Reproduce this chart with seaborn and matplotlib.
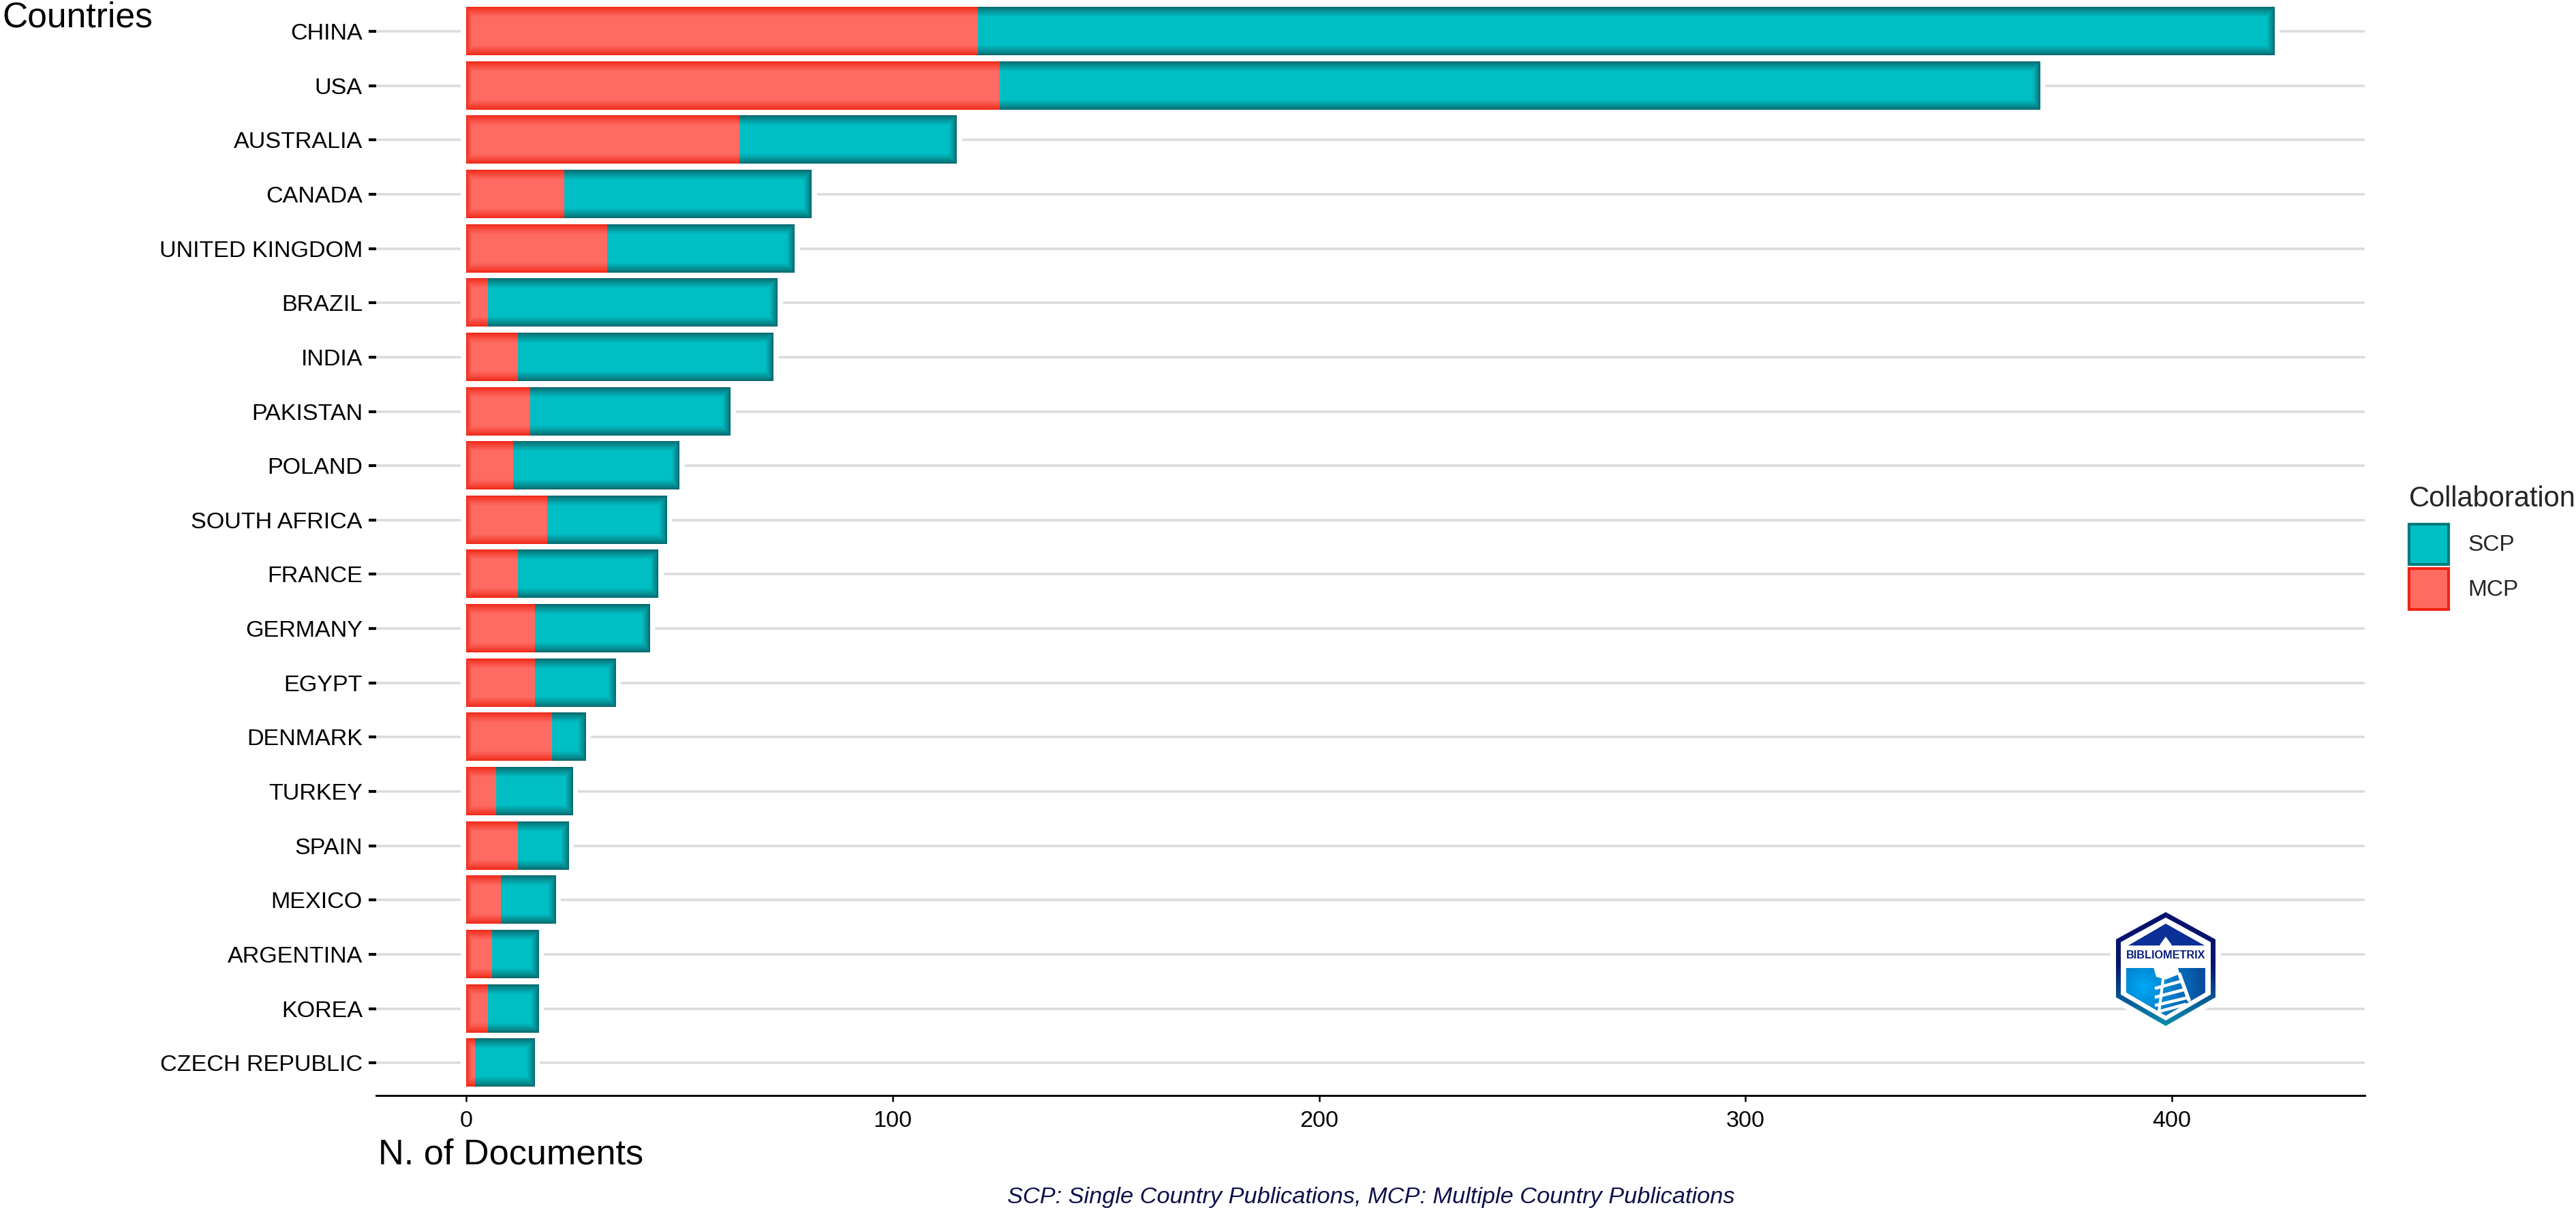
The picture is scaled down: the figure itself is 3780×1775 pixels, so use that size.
import numpy as np
import pandas as pd
import matplotlib.pyplot as plt
import seaborn as sns
from matplotlib.colors import to_rgb
from matplotlib.patches import Patch, Polygon

countries = ["CHINA", "USA", "AUSTRALIA", "CANADA", "UNITED KINGDOM", "BRAZIL", "INDIA",
             "PAKISTAN", "POLAND", "SOUTH AFRICA", "FRANCE", "GERMANY", "EGYPT", "DENMARK",
             "TURKEY", "SPAIN", "MEXICO", "ARGENTINA", "KOREA", "CZECH REPUBLIC"]
mcp = [120, 125, 64, 23, 33, 5, 12, 15, 11, 19, 12, 16, 16, 20, 7, 12, 8, 6, 5, 2]
total = [424, 369, 115, 81, 77, 73, 72, 62, 50, 47, 45, 43, 35, 28, 25, 24, 21, 17, 17, 16]
x_ticks = [0, 100, 200, 300, 400]

W, H = 3780, 1775
TEAL, TEAL_DARK = "#00bfc4", "#0a6468"
RED, RED_DARK = "#ff6b63", "#ee2413"

sns.set_theme(style="white")
plt.rcParams["font.family"] = ["Liberation Sans", "DejaVu Sans"]

df = pd.DataFrame({"country": countries, "mcp": mcp, "total": total})


def fx(px):
    return px / W


def fy(py):
    return 1 - py / H


def shade_bars(ax, container, base, dark, left=False, right=False):
    # darker bands along the bar edges, as in the source image
    base, dark = np.array(to_rgb(base)), np.array(to_rgb(dark))
    fig = ax.figure
    fig.canvas.draw()
    for bar in container:
        box = bar.get_window_extent()
        nx, ny = max(int(round(box.width)), 1), max(int(round(box.height)), 1)
        xs, ys = np.arange(nx) + 0.5, np.arange(ny) + 0.5
        dy = np.minimum(ys, ny - ys)[:, None] / 15
        d = np.repeat(dy, nx, axis=1)
        if right:
            d = np.minimum(d, (nx - xs)[None, :] / 12)
        if left:
            d = np.minimum(d, xs[None, :] / 9)
        t = np.clip(d, 0, 1)[..., None] ** 0.8
        img = dark + (base - dark) * t
        x0, y0 = bar.get_x(), bar.get_y()
        ax.imshow(img, extent=(x0, x0 + bar.get_width(), y0 + bar.get_height(), y0),
                  aspect="auto", interpolation="nearest", zorder=2.5)


def draw_logo(fig):
    # Bibliometrix badge, local coordinates are pixels of a 180x190 box
    lax = fig.add_axes([fx(3090), fy(1515), fx(180), 190 / H], facecolor="none", zorder=5)
    lax.set_xlim(0, 180)
    lax.set_ylim(190, 0)
    lax.axis("off")

    outer = [(88, 13), (161, 53), (161, 138), (88, 180), (15, 138), (15, 53)]
    inner = [(88, 21), (154, 57), (154, 134), (88, 172), (22, 134), (22, 57)]
    roof = [(33, 62), (88, 30), (145, 62)]
    lower = [(30, 95), (146, 95), (146, 131), (88, 165), (30, 131)]
    tower = [(88, 49), (96, 60), (100, 72), (76, 72), (80, 60)]
    neck = [(70, 94), (88, 84), (106, 94), (108, 104), (88, 112), (74, 108)]

    lax.add_patch(Polygon(outer, closed=True, fc="white", ec="white", lw=3.8, clip_on=False))

    yy, xx = np.mgrid[0:190, 0:180]
    frac = np.clip((yy[..., None] - 90) / 90, 0, 1)
    navy, teal = np.array(to_rgb("#06146e")), np.array(to_rgb("#0a8fb0"))
    rim = navy + (teal - navy) * frac
    im = lax.imshow(rim, extent=(0, 180, 190, 0), aspect="auto", zorder=1)
    im.set_clip_path(Polygon(outer, closed=True, transform=lax.transData))
    lax.add_patch(Polygon(inner, closed=True, fc="white", ec="none", zorder=2))

    lax.add_patch(Polygon(roof, closed=True, fc="#0a2f96", ec="none", zorder=3))
    lax.add_patch(Polygon(tower, closed=True, fc="white", ec="none", zorder=4))

    r = np.hypot(xx - 55, yy - 122)[..., None] / 85
    bright, deep = np.array(to_rgb("#00a8f5")), np.array(to_rgb("#08509e"))
    fill = bright + (deep - bright) * np.clip(r, 0, 1)
    im2 = lax.imshow(fill, extent=(0, 180, 190, 0), aspect="auto", zorder=3)
    im2.set_clip_path(Polygon(lower, closed=True, transform=lax.transData))

    lax.add_patch(Polygon(neck, closed=True, fc="white", ec="none", zorder=4))
    for seg in [((72, 125), (112, 114)), ((72, 138), (118, 126)), ((72, 150), (122, 138)), ((74, 160), (118, 148))]:
        lax.plot(*zip(*seg), color="white", lw=1.1, zorder=4, solid_capstyle="butt")
    lax.plot([108, 122], [104, 142], color="white", lw=1.3, zorder=4)
    lax.plot([84, 78], [112, 160], color="white", lw=1.0, zorder=4)

    lax.text(88, 77, "BIBLIOMETRIX", ha="center", va="center", fontsize=3.9, fontweight="bold",
             color="#0a1f7d", zorder=6)
    lax.set_xlim(0, 180)
    lax.set_ylim(190, 0)


fig = plt.figure(figsize=(W / 300, H / 300), dpi=300)
ax = fig.add_axes([fx(552), fy(1607), fx(3470 - 552), 1607 / H])

# white halo around the bars cuts the gridlines
sns.barplot(data=df, x="total", y="country", orient="h", width=0.88, color="white",
            saturation=1, edgecolor="white", linewidth=3.8, ax=ax, zorder=2)
sns.barplot(data=df, x="total", y="country", orient="h", width=0.88, color=TEAL,
            saturation=1, linewidth=0, ax=ax, zorder=2.2)
scp_bars = ax.containers[-1]
sns.barplot(data=df, x="mcp", y="country", orient="h", width=0.88, color=RED,
            saturation=1, linewidth=0, ax=ax, zorder=2.2)
mcp_bars = ax.containers[-1]

# barplot switches the grid off, so it goes on afterwards
ax.yaxis.grid(True, color="#dbdbdb", linewidth=0.85)
ax.xaxis.grid(False)
ax.set_axisbelow(True)

ax.set_xticks(x_ticks)
ax.set_xlim(-21.1, 445.2)
ax.set_ylim(19.60, -0.578)
shade_bars(ax, scp_bars, TEAL, TEAL_DARK, right=True)
shade_bars(ax, mcp_bars, RED, RED_DARK, left=True)
ax.set_xlim(-21.1, 445.2)
ax.set_ylim(19.60, -0.578)

sns.despine(ax=ax, left=True)
ax.spines["bottom"].set_linewidth(0.7)
ax.spines["bottom"].set_color("black")
ax.tick_params(axis="y", length=2.6, width=1.0, pad=2.2, labelsize=8.2, labelcolor="black",
               color="black", left=True)
ax.tick_params(axis="x", length=2.2, width=0.6, pad=3.0, labelsize=8.2, labelcolor="black",
               color="black", bottom=True)
ax.set_xlabel("")
ax.set_ylabel("")

fig.text(fx(3), fy(39), "Countries", fontsize=12.4, color="black", ha="left", va="baseline")
fig.text(fx(555), fy(1708), "N. of Documents", fontsize=12.55, color="black", ha="left", va="baseline")
fig.text(fx(1478), fy(1765), "SCP: Single Country Publications, MCP: Multiple Country Publications",
         fontsize=8.25, style="italic", color="#10104a", ha="left", va="baseline")

handles = [Patch(facecolor=TEAL, edgecolor="#067a7e", linewidth=1.0, label="SCP"),
           Patch(facecolor=RED, edgecolor=RED_DARK, linewidth=1.0, label="MCP")]
leg = fig.legend(handles=handles, title="Collaboration", loc="upper left",
                 bbox_to_anchor=(fx(3535), fy(712)), frameon=False, fontsize=8,
                 title_fontsize=10, handlelength=1.75, handleheight=2.35,
                 handletextpad=0.85, labelspacing=0.2, borderpad=0, borderaxespad=0,
                 alignment="left")
leg._legend_box.sep = 4.0  # more room between title and swatches

draw_logo(fig)

fig.savefig("out.png", dpi=300, facecolor="white")
